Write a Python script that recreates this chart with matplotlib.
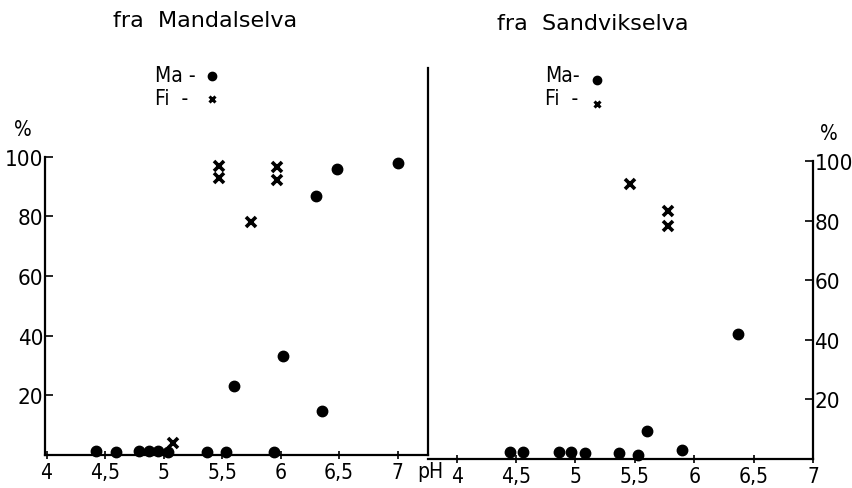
import matplotlib
matplotlib.use("Agg")
import matplotlib.pyplot as plt

plt.rcParams['font.family'] = ['DejaVu Sans']
plt.rcParams['font.stretch'] = 'condensed'

# left panel: fra Mandalselva
ma_l_ph = [4.42, 4.59, 4.79, 4.875, 4.955, 5.035, 5.37, 5.53, 5.60, 5.94, 6.02, 6.30, 6.35, 6.48, 7.0]
ma_l_pct = [1.2, 1.1, 1.2, 1.2, 1.2, 0.9, 1.1, 1.1, 23.0, 1.1, 33.1, 86.8, 14.7, 95.8, 97.9]
fi_l_ph = [5.08, 5.47, 5.47, 5.75, 5.97, 5.97]
fi_l_pct = [4.0, 96.8, 92.7, 78.0, 96.6, 92.0]

# right panel: fra Sandvikselva
ma_r_ph = [4.45, 4.56, 4.857, 4.96, 5.08, 5.37, 5.53, 5.60, 5.90, 6.365]
ma_r_pct = [2.4, 2.4, 2.2, 2.2, 2.0, 2.0, 1.4, 9.5, 3.1, 42.0]
fi_r_ph = [5.455, 5.775, 5.775]
fi_r_pct = [92.2, 83.2, 78.3]

ph_ticks = [4, 4.5, 5, 5.5, 6, 6.5, 7]
ph_labels = ["4", "4,5", "5", "5,5", "6", "6,5", "7"]
pct_ticks = [20, 40, 60, 80, 100]

W, H = 853, 489
fig = plt.figure(figsize=(W / 100, H / 100), dpi=100)

def frac(x0, y_bot, x1, y_top):
    return [x0 / W, 1 - y_bot / H, (x1 - x0) / W, (y_bot - y_top) / H]

axl = fig.add_axes(frac(45, 456, 428, 69))
axr = fig.add_axes(frac(428, 460, 813, 162))

lw = 1.6
ms = 7.5
for ax, mx, my, fx, fy in [(axl, ma_l_ph, ma_l_pct, fi_l_ph, fi_l_pct),
                           (axr, ma_r_ph, ma_r_pct, fi_r_ph, fi_r_pct)]:
    ax.plot(mx, my, 'o', color='black', ms=ms, clip_on=False, zorder=3)
    ax.plot(fx, fy, 'x', color='black', ms=6.5, mew=2.6, clip_on=False, zorder=3)
    ax.set_xticks(ph_ticks)
    ax.set_xticklabels(ph_labels)
    ax.tick_params(axis='x', direction='inout', length=6, width=1.2, labelsize=15, pad=2)
    ax.tick_params(axis='y', direction='in', length=6, width=1.2, labelsize=16, pad=1)
    ax.set_facecolor('none')
    for s in ax.spines.values():
        s.set_linewidth(lw)

# left axes
axl.set_xlim(3.987, 7.26)
axl.set_ylim(0, 129.7)
axl.set_yticks(pct_ticks)
axl.spines['top'].set_visible(False)
axl.spines['left'].set_bounds(0, 100)

# right axes
axr.set_xlim(3.758, 7.0)
axr.set_ylim(0, 100)
axr.set_yticks(pct_ticks)
axr.yaxis.tick_right()
axr.spines['top'].set_visible(False)
axr.spines['left'].set_visible(False)

fs_title = 16
fig.text(113 / W, 1 - 21 / H, "fra  Mandalselva", fontsize=fs_title, fontstretch='normal',
         va='center', ha='left')
fig.text(497 / W, 1 - 24 / H, "fra  Sandvikselva", fontsize=fs_title, fontstretch='normal',
         va='center', ha='left')

fig.text(155 / W, 1 - 76 / H, "Ma -", fontsize=15, va='center', ha='left')
fig.text(155 / W, 1 - 99 / H, "Fi  -", fontsize=15, va='center', ha='left')
fig.text(545 / W, 1 - 76 / H, "Ma-", fontsize=15, va='center', ha='left')
fig.text(545 / W, 1 - 99 / H, "Fi  -", fontsize=15, va='center', ha='left')
for xm, yc, yx in [(212, 77, 100), (597, 81, 105)]:
    fig.lines.append(plt.Line2D([xm / W], [1 - yc / H], marker='o', color='black', ms=6,
                                transform=fig.transFigure))
    fig.lines.append(plt.Line2D([xm / W], [1 - yx / H], marker='x', color='black', ms=5,
                                mew=2.2, transform=fig.transFigure))

fig.text(23 / W, 1 - 130 / H, "%", fontsize=15, va='center', ha='center')
fig.text(829 / W, 1 - 134 / H, "%", fontsize=15, va='center', ha='center')
fig.text(430 / W, 1 - 472 / H, "pH", fontsize=15, va='center', ha='center')

fig.savefig("out.png", dpi=100)
